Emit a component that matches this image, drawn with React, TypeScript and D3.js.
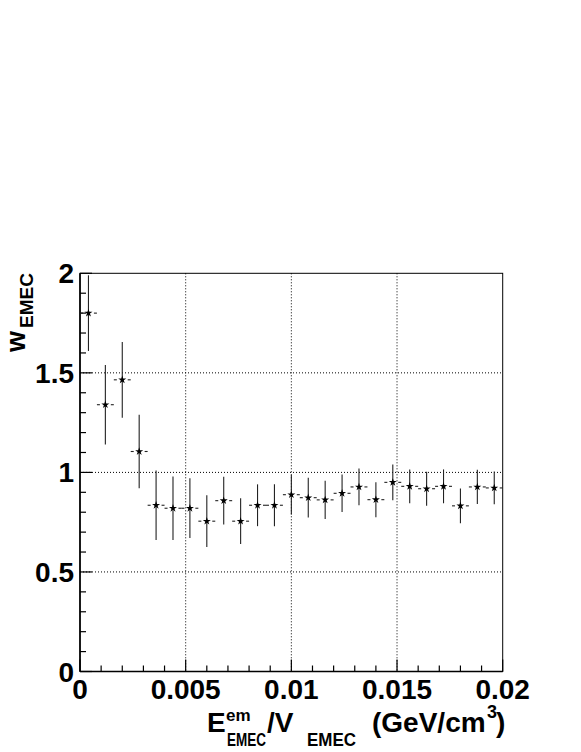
import React from 'react';
import * as d3 from 'd3';

// bin centres (bin width 0.0008)
const binCenters = [
  0.0004, 0.0012, 0.002, 0.0028, 0.0036, 0.0044, 0.0052, 0.006, 0.0068, 0.0076,
  0.0084, 0.0092, 0.01, 0.0108, 0.0116, 0.0124, 0.0132, 0.014, 0.0148, 0.0156,
  0.0164, 0.0172, 0.018, 0.0188, 0.0196,
];
const binHalfWidth = 0.0004;
const wValues = [
  1.8, 1.34, 1.465, 1.105, 0.835, 0.82, 0.82, 0.755, 0.858, 0.755,
  0.835, 0.835, 0.888, 0.873, 0.862, 0.895, 0.927, 0.863, 0.95, 0.93,
  0.918, 0.93, 0.832, 0.927, 0.922,
];
const wErrors = [
  0.19, 0.2, 0.19, 0.185, 0.175, 0.16, 0.15, 0.13, 0.12, 0.115,
  0.105, 0.105, 0.1, 0.1, 0.096, 0.094, 0.092, 0.088, 0.09, 0.085,
  0.085, 0.085, 0.087, 0.086, 0.082,
];
const xTicks = [0, 0.005, 0.01, 0.015, 0.02];
const xTickLabels = ['0', '0.005', '0.01', '0.015', '0.02'];
const yTicks = [0, 0.5, 1, 1.5, 2];
const yTickLabels = ['0', '0.5', '1', '1.5', '2'];
const xGrid = [0.005, 0.01, 0.015];
const yGrid = [0.5, 1, 1.5];

const W = 581;
const H = 752;
const frame = { left: 80, right: 502.7, top: 273.3, bottom: 671.5 };
const font = '"Liberation Sans", Arial, Helvetica, sans-serif';

export default function App() {
  const x = d3.scaleLinear().domain([0, 0.02]).range([frame.left, frame.right]);
  const y = d3.scaleLinear().domain([0, 2]).range([frame.bottom, frame.top]);

  const xMinor = d3.range(0, 21).map(i => i * 0.001).filter(v => !xTicks.some(t => Math.abs(t - v) < 1e-9));
  const yMinor = d3.range(0, 21).map(i => i * 0.1).filter(v => !yTicks.some(t => Math.abs(t - v) < 1e-9));

  const star = d3.symbol().type(d3.symbolStar).size(20)();
  const gap = 4;

  return (
    <div style={{ position: 'absolute', left: 0, top: 0 }}>
      <svg width={W} height={H} style={{ display: 'block', background: '#fff' }} fontFamily={font}>
        {/* grid */}
        <g stroke="#000" strokeWidth={1} strokeDasharray="1,2">
          {xGrid.map(v => (
            <line key={'gx' + v} x1={x(v)} x2={x(v)} y1={frame.top} y2={frame.bottom} />
          ))}
          {yGrid.map(v => (
            <line key={'gy' + v} x1={frame.left} x2={frame.right} y1={y(v)} y2={y(v)} />
          ))}
        </g>

        {/* frame */}
        <rect x={frame.left} y={frame.top} width={frame.right - frame.left} height={frame.bottom - frame.top}
          fill="none" stroke="#000" strokeWidth={1} />
        <line x1={frame.left} x2={frame.left} y1={frame.top} y2={frame.bottom} stroke="#000" strokeWidth={1.6} />
        <line x1={frame.left} x2={frame.right} y1={frame.bottom} y2={frame.bottom} stroke="#000" strokeWidth={1.6} />

        {/* ticks */}
        <g stroke="#000" strokeWidth={1.2}>
          {xTicks.map(v => (
            <line key={'xt' + v} x1={x(v)} x2={x(v)} y1={frame.bottom} y2={frame.bottom - 12} />
          ))}
          {xMinor.map(v => (
            <line key={'xm' + v} x1={x(v)} x2={x(v)} y1={frame.bottom} y2={frame.bottom - 6} />
          ))}
          {yTicks.map(v => (
            <line key={'yt' + v} x1={frame.left} x2={frame.left + 12} y1={y(v)} y2={y(v)} />
          ))}
          {yMinor.map(v => (
            <line key={'ym' + v} x1={frame.left} x2={frame.left + 6} y1={y(v)} y2={y(v)} />
          ))}
        </g>

        {/* tick labels */}
        <g fontWeight="bold" fontSize={28} fill="#000">
          {xTicks.map((v, i) => (
            <text key={'xl' + v} x={x(v)} y={699} textAnchor="middle">{xTickLabels[i]}</text>
          ))}
          {yTicks.map((v, i) => (
            <text key={'yl' + v} x={74} y={y(v) + 10} textAnchor="end">{yTickLabels[i]}</text>
          ))}
        </g>

        {/* error bars and markers */}
        <g>
          {binCenters.map((c, i) => {
            const cx = x(c);
            const cy = y(wValues[i]);
            return (
              <g key={'pt' + i}>
                <line x1={cx} x2={cx} y1={y(wValues[i] + wErrors[i])} y2={y(wValues[i] - wErrors[i])}
                  stroke="#222" strokeWidth={1.1} />
                <line x1={x(c - binHalfWidth)} x2={cx - gap} y1={cy} y2={cy}
                  stroke="#222" strokeWidth={1.1} strokeDasharray="3,2" />
                <line x1={x(c + binHalfWidth)} x2={cx + gap} y1={cy} y2={cy}
                  stroke="#222" strokeWidth={1.1} strokeDasharray="3,2" />
                <path d={star} transform={`translate(${cx},${cy})`} fill="#000" />
              </g>
            );
          })}
        </g>

        {/* x-axis title */}
        <g fontWeight="bold" fill="#000">
          <text x={207} y={732} fontSize={28}>E</text>
          <text x={226} y={721} fontSize={17}>em</text>
          <text x={227} y={746} fontSize={19} textLength={39} lengthAdjust="spacingAndGlyphs">EMEC</text>
          <text x={267} y={732} fontSize={28}>/V</text>
          <text x={307} y={746} fontSize={19} textLength={49} lengthAdjust="spacingAndGlyphs">EMEC</text>
          <text x={372} y={732} fontSize={28}>(GeV/cm</text>
          <text x={487} y={718} fontSize={18}>3</text>
          <text x={496} y={732} fontSize={28}>)</text>
        </g>

        {/* y-axis title */}
        <g fontWeight="bold" fill="#000">
          <text transform="translate(25,352) rotate(-90)" fontSize={27}>w</text>
          <text transform="translate(33,328) rotate(-90)" fontSize={18} textLength={55} lengthAdjust="spacingAndGlyphs">EMEC</text>
        </g>
      </svg>
    </div>
  );
}
